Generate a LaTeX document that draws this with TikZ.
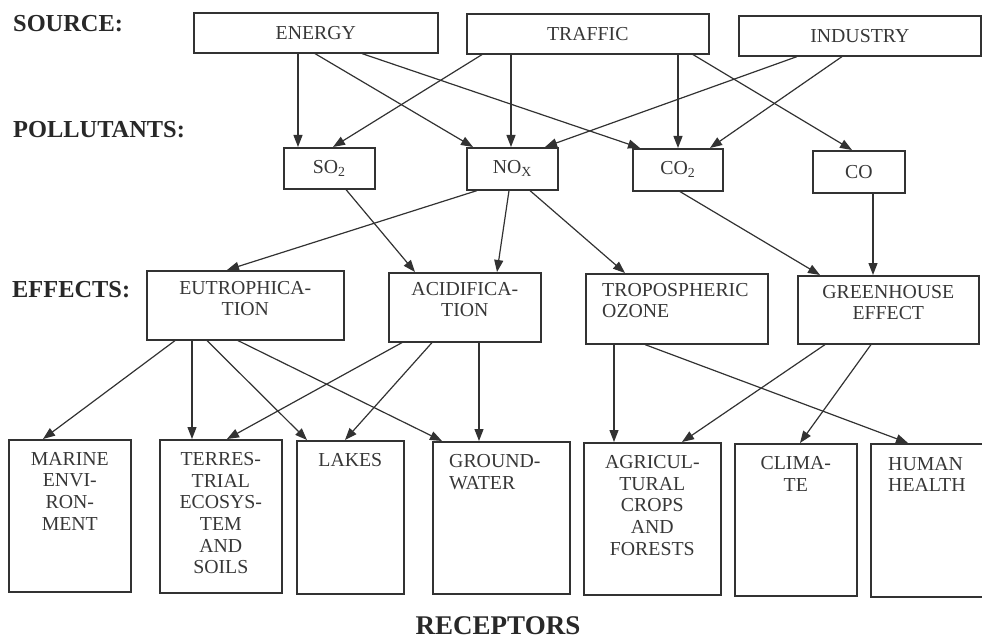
\documentclass[tikz,border=0pt]{standalone}
\usepackage{fontspec}
\setmainfont{Liberation Serif}
\usetikzlibrary{arrows.meta}
\definecolor{linec}{RGB}{50,50,50}
\definecolor{txtc}{RGB}{55,55,55}
\definecolor{hdrc}{RGB}{40,40,40}
\tikzset{
  box/.style={draw=linec, line width=1.6pt, inner sep=0pt, anchor=north west},
  arr/.style={draw=linec, line width=1.2pt, -{Triangle[length=12pt,width=9pt]}},
  btxt/.style={font=\fontsize{19.8}{21}\selectfont, text=txtc, align=center, inner sep=0pt},
  rtxt/.style={font=\fontsize{19.8}{21.7}\selectfont, text=txtc, align=center, inner sep=0pt},
  hdr/.style={font=\fontsize{24.4}{28}\selectfont\bfseries, text=hdrc, anchor=base west, inner sep=0pt},
}
\begin{document}
\begin{tikzpicture}[x=1pt,y=-1pt]
\useasboundingbox (0,0) rectangle (982,639);
\clip (0,0) rectangle (982,639);

% headers
\node[hdr] (hsrc) at (13,32) {SOURCE:};
\node[hdr] (hpol) at (13,138) {POLLUTANTS:};
\node[hdr] (heff) at (12,297) {EFFECTS:};
\node[hdr, anchor=base, font=\fontsize{27}{30}\selectfont\bfseries] (hrec) at (498,634) {RECEPTORS};

% sources
\node[box, btxt, minimum width=244pt, minimum height=40pt] (energy) at (193,12) {ENERGY};
\node[box, btxt, minimum width=242pt, minimum height=40pt] (traffic) at (466,13) {TRAFFIC};
\node[box, btxt, minimum width=242pt, minimum height=40pt] (industry) at (738,15) {INDUSTRY};

% pollutants
\node[box, btxt, minimum width=91pt, minimum height=41pt] (so2) at (283,147) {SO\textsubscript{2}};
\node[box, btxt, minimum width=91pt, minimum height=42pt] (nox) at (466,147) {NO\textsubscript{X}};
\node[box, btxt, minimum width=90pt, minimum height=42pt] (co2) at (632,148) {CO\textsubscript{2}};
\node[box, btxt, minimum width=92pt, minimum height=42pt] (co) at (812,150) {CO};

% effects
\node[box, minimum width=197pt, minimum height=69pt] (eutro) at (146,270) {};
\node[btxt, anchor=north] (eutrot) at ([yshift=-11pt]eutro.north) {EUTROPHICA-\\TION};
\node[box, minimum width=152pt, minimum height=69pt] (acid) at (388,272) {};
\node[btxt, anchor=north] (acidt) at ([yshift=-10pt]acid.north) {ACIDIFICA-\\TION};
\node[box, minimum width=182pt, minimum height=70pt] (tropo) at (585,273) {};
\node[btxt, align=left, anchor=north west] (tropot) at ([xshift=17pt,yshift=-10pt]tropo.north west) {TROPOSPHERIC\\OZONE};
\node[box, minimum width=181pt, minimum height=68pt] (green) at (797,275) {};
\node[btxt, anchor=north] (greent) at ([yshift=-10pt]green.north) {GREENHOUSE\\EFFECT};

% receptors
\node[box, minimum width=122pt, minimum height=152pt] (marine) at (8,439) {};
\node[rtxt, anchor=north] (marinet) at ([yshift=-13pt]marine.north) {MARINE\\ENVI-\\RON-\\MENT};
\node[box, minimum width=122pt, minimum height=153pt] (terr) at (159,439) {};
\node[rtxt, anchor=north] (terrt) at ([yshift=-13pt]terr.north) {TERRES-\\TRIAL\\ECOSYS-\\TEM\\AND\\SOILS};
\node[box, minimum width=107pt, minimum height=153pt] (lakes) at (296,440) {};
\node[rtxt, anchor=north] (lakest) at ([yshift=-13pt]lakes.north) {LAKES};
\node[box, minimum width=137pt, minimum height=152pt] (ground) at (432,441) {};
\node[rtxt, align=left, anchor=north west] (groundt) at ([xshift=17pt,yshift=-13pt]ground.north west) {GROUND-\\WATER};
\node[box, minimum width=137pt, minimum height=152pt] (agri) at (583,442) {};
\node[rtxt, anchor=north] (agrit) at ([yshift=-13pt]agri.north) {AGRICUL-\\TURAL\\CROPS\\AND\\FORESTS};
\node[box, minimum width=122pt, minimum height=152pt] (climate) at (734,443) {};
\node[rtxt, anchor=north] (climatet) at ([yshift=-13pt]climate.north) {CLIMA-\\TE};
\node[box, minimum width=125pt, minimum height=153pt] (human) at (870,443) {};
\node[rtxt, align=left, anchor=north west] (humant) at ([xshift=18pt,yshift=-14pt]human.north west) {HUMAN\\HEALTH};

% sources -> pollutants
\draw[arr] ([xshift=105pt]energy.south west) -- ([xshift=15pt]so2.north west);
\draw[arr] ([xshift=122pt]energy.south west) -- ([xshift=7pt]nox.north west);
\draw[arr] ([xshift=169pt]energy.south west) -- ([xshift=8pt]co2.north west);
\draw[arr] ([xshift=16pt]traffic.south west) -- ([xshift=50pt]so2.north west);
\draw[arr] ([xshift=45pt]traffic.south west) -- ([xshift=45pt]nox.north west);
\draw[arr] ([xshift=212pt]traffic.south west) -- ([xshift=46pt]co2.north west);
\draw[arr] ([xshift=227pt]traffic.south west) -- ([xshift=40pt]co.north west);
\draw[arr] ([xshift=59pt]industry.south west) -- ([xshift=79pt]nox.north west);
\draw[arr] ([xshift=104pt]industry.south west) -- ([xshift=78pt]co2.north west);

% pollutants -> effects
\draw[arr] ([xshift=63pt]so2.south west) -- ([xshift=27pt]acid.north west);
\draw[arr] ([xshift=11pt]nox.south west) -- ([xshift=81pt]eutro.north west);
\draw[arr] ([xshift=43pt]nox.south west) -- ([xshift=109pt]acid.north west);
\draw[arr] ([xshift=64pt]nox.south west) -- ([xshift=40pt]tropo.north west);
\draw[arr] ([xshift=48pt]co2.south west) -- ([xshift=23pt]green.north west);
\draw[arr] ([xshift=61pt]co.south west) -- ([xshift=76pt]green.north west);

% effects -> receptors
\draw[arr] ([xshift=29pt]eutro.south west) -- ([xshift=35pt]marine.north west);
\draw[arr] ([xshift=46pt]eutro.south west) -- ([xshift=33pt]terr.north west);
\draw[arr] ([xshift=61pt]eutro.south west) -- ([xshift=11pt]lakes.north west);
\draw[arr] ([xshift=92pt]eutro.south west) -- ([xshift=10pt]ground.north west);
\draw[arr] ([xshift=14pt]acid.south west) -- ([xshift=68pt]terr.north west);
\draw[arr] ([xshift=44pt]acid.south west) -- ([xshift=49pt]lakes.north west);
\draw[arr] ([xshift=91pt]acid.south west) -- ([xshift=47pt]ground.north west);
\draw[arr] ([xshift=29pt]tropo.south west) -- ([xshift=31pt]agri.north west);
\draw[arr] ([xshift=60pt]tropo.south west) -- ([xshift=38pt]human.north west);
\draw[arr] ([xshift=28pt]green.south west) -- ([xshift=99pt]agri.north west);
\draw[arr] ([xshift=74pt]green.south west) -- ([xshift=66pt]climate.north west);
\end{tikzpicture}
\end{document}
